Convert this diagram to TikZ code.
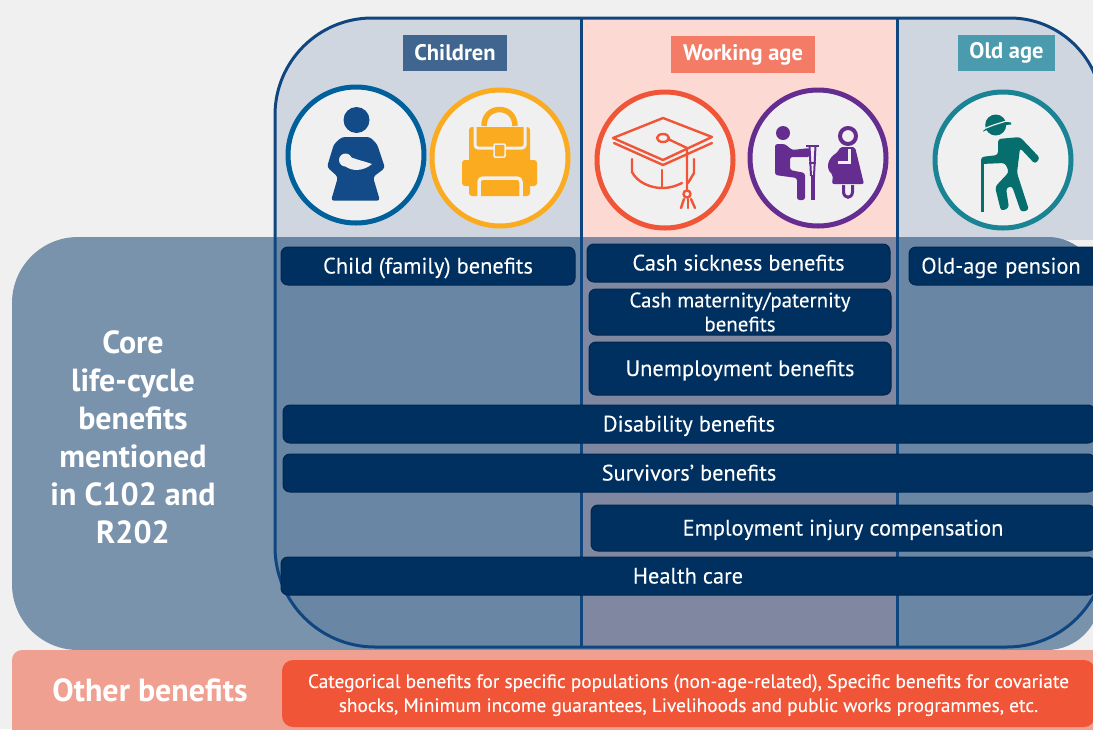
\documentclass[tikz,border=0pt]{standalone}
\usepackage{fontspec}
\setmainfont{PT Sans}
\newfontfamily\barfont[FakeBold=0.12]{PT Sans}
\definecolor{bgc}{HTML}{F0F0F0}
\definecolor{bigc}{HTML}{7A93AD}
\definecolor{sidetop}{HTML}{CFD6E0}
\definecolor{worktop}{HTML}{FDD9D3}
\definecolor{sidelow}{HTML}{6A86A5}
\definecolor{worklow}{HTML}{7F88A0}
\definecolor{framec}{HTML}{0F4680}
\definecolor{barc}{HTML}{00305F}
\definecolor{baredge}{HTML}{00264E}
\definecolor{otherc}{HTML}{F0A090}
\definecolor{orangec}{HTML}{F05537}
\definecolor{tabA}{HTML}{40658F}
\definecolor{tabB}{HTML}{F47C66}
\definecolor{tabC}{HTML}{4A9BAD}
\definecolor{ringA}{HTML}{00609C}
\definecolor{iconA}{HTML}{134A88}
\definecolor{ringB}{HTML}{FBAB20}
\definecolor{ringD}{HTML}{662D91}
\definecolor{ringE}{HTML}{1A8494}
\definecolor{iconE}{HTML}{066E6C}
\tikzset{
  x=1pt,y=-1pt,
  barbox/.style={draw=baredge,fill=barc,line width=1pt,rounded corners=7pt,text=white,
    font=\barfont\fontsize{22.4}{24}\selectfont,align=center,inner sep=0pt,outer sep=0pt},
  tabbox/.style={text=white,font=\fontsize{22.5}{26}\selectfont\bfseries,inner sep=0pt,outer sep=0pt,
    minimum height=36pt},
  ring/.style={circle,draw=#1,line width=5pt,fill=bgc,minimum size=136pt,inner sep=0pt},
  sidetext/.style={text=white,align=center,font=\fontsize{32}{38}\selectfont\bfseries,inner sep=0pt}
}
\newcommand{\framepath}{(275,300) [rounded corners=97pt] -- (275,18) [rounded corners=91pt] -- (1101,18) [rounded corners=100pt] -- (1107,647) -- (275,647) [sharp corners] -- cycle}
\newcommand{\lowered}[1]{\raisebox{0pt}[16pt][1pt]{#1}}
\begin{document}
\begin{tikzpicture}
\useasboundingbox (0,0) rectangle (1093,729);
\clip (0,0) rectangle (1093,729);
\fill[bgc] (0,0) rectangle (1093,729);
% upper column tints
\begin{scope}
  \clip \framepath;
  \fill[sidetop] (270,10) rectangle (581,240);
  \fill[worktop] (581,10) rectangle (897,240);
  \fill[sidetop] (897,10) rectangle (1120,240);
\end{scope}
% core band
\fill[bigc] (12,300) [rounded corners=66pt] -- (12,237) [rounded corners=53pt] -- (1100,237) -- (1100,650) [rounded corners=66pt] -- (12,650) [sharp corners] -- cycle;
\begin{scope}
  \clip \framepath;
  \clip (12,300) [rounded corners=66pt] -- (12,237) [rounded corners=53pt] -- (1100,237) -- (1100,650) [rounded corners=66pt] -- (12,650) [sharp corners] -- cycle;
  \fill[sidelow] (270,237) rectangle (581,650);
  \fill[worklow] (581,237) rectangle (897,650);
  \fill[sidelow] (897,237) rectangle (1120,650);
\end{scope}
% frame
\draw[framec,line width=3pt] \framepath;
\draw[framec,line width=3pt] (581,18) -- (581,647);
\draw[framec,line width=3pt] (897,18) -- (897,647);
% other band
\fill[otherc,rounded corners=10pt] (12,650) rectangle (1110,745);
% tabs
\node[tabbox,fill=tabA,minimum width=104pt] (tabchild) at (455,53) {Children};
\node[tabbox,fill=tabB,minimum width=144pt,minimum height=37pt] (tabwork) at (743,54.5) {Working age};
\node[tabbox,fill=tabC,minimum width=97pt] (tabold) at (1006.5,53) {Old age};
% rings
\node[ring=ringA] (r1) at (356,155) {};
\node[ring=ringB] (r2) at (500,158) {};
\node[ring=orangec] (r3) at (665,160) {};
\node[ring=ringD] (r4) at (818,158) {};
\node[ring=ringE] (r5) at (1003,160) {};
% mother and baby
\fill[iconA] (356.5,120) circle (13);
\fill[iconA,rounded corners=3pt] (331,200.7) -- (380,200.7) -- (373,177) -- (385,168) -- (377,144) -- (370,137) -- (342,137) -- (334,144) -- (327,167) -- (338,177) -- cycle;
\fill[bgc] (345.5,160) circle (6.5);
\fill[bgc] (350,157) .. controls (358,160) and (365,161.5) .. (372,164) .. controls (364,171) and (352,172) .. (345,166) -- cycle;
% backpack
\fill[ringB,rounded corners=3pt] (469,127) rectangle (530,196);
\draw[ringB,line width=5.5pt] (484,126) .. controls (484,104) and (515,104) .. (515,126);
\fill[ringB,rounded corners=3pt] (462,160) rectangle (537,186);
\draw[bgc,line width=3pt,rounded corners=3pt] (475,124) -- (475,148) -- (525,148) -- (525,124);
\fill[ringB,draw=bgc,line width=1.5pt,rounded corners=1pt] (494,144) rectangle (505,157);
\draw[bgc,line width=3.5pt,rounded corners=4pt] (479,198) -- (479,178) -- (521,178) -- (521,198);
% graduation cap
\begin{scope}[orangec,line width=2.4pt,line join=round,line cap=round]
  \draw (613,138) -- (663,118) -- (712,137) -- (663,160) -- cycle;
  \draw (614,143) -- (663,165) -- (712,143);
  \draw (632,159) -- (632,172) .. controls (637,182) and (650,188) .. (662,188) .. controls (670,188) and (676,186) .. (682,183);
  \draw (662,170) -- (662,187);
  \draw (694,159) -- (694,173) -- (688,183);
  \draw (663,138) ellipse (6 and 4);
  \draw (668,139) -- (687,148) -- (687,190);
  \draw (687,194) circle (3.5);
  \draw (684,199) -- (681,208);
  \draw (688,199) -- (688,208);
  \draw (691,199) -- (695,208);
\end{scope}
% sitting person, crutch, pregnant woman
\fill[ringD] (783,133) circle (7);
\fill[ringD,rounded corners=2.5pt] (775,144) -- (785,144) -- (792,150) -- (810,148) -- (810,157) -- (790,157) -- (790,170) -- (805,173) -- (805,200) -- (797,200) -- (797,178) -- (775,175) -- cycle;
\begin{scope}[ringD]
  \draw[line width=2.5pt] (806,146) -- (819,146);
  \draw[line width=2pt] (809.5,146) -- (811,176);
  \draw[line width=2pt] (815.5,146) -- (814,176);
  \draw[line width=2pt] (809,163) -- (816,163);
  \draw[line width=4pt] (812.5,175) -- (812.5,200);
  \draw[line width=4pt] (848,136) circle (8);
  \fill[rounded corners=2pt] (840,147) -- (855,147) -- (864,184) -- (832,184) -- (833,175) .. controls (825,168) and (828,158) .. (838,152) -- cycle;
  \draw[line width=3pt,bgc] (849,149) -- (849,162) -- (838,162);
  \draw[line width=3pt] (843.5,185) -- (843.5,192) .. controls (844,199) and (852,199) .. (852.5,192) -- (852.5,185);
\end{scope}
% old man
\fill[iconE] (995.7,125) circle (10.5);
\fill[iconE] (983,131) .. controls (992,123) and (1003,121) .. (1011,122.5) -- (1011,124.5) .. controls (1003,125) and (992,128) .. (983,131.5) -- cycle;
\draw[bgc,line width=1.2pt] (986,128) .. controls (994,124.5) and (1002,122.5) .. (1008,120.5);
\fill[iconE,rounded corners=3pt] (998,139) -- (1020,137) -- (1040,158) -- (1035,164) -- (1020,148) -- (1017,173) -- (1029,210) -- (1021,212) -- (1012,186) -- (1006,188) -- (1009,208) -- (1001,211) -- (995,187) -- (1009,172) -- (1005,163) -- (981,164) -- (981,157) -- (998,155) -- cycle;
\draw[iconE,line width=3pt] (982,160) -- (982,212);
% core bars
\node[barbox,minimum width=294pt,minimum height=38pt] (child) at (428,266) {\lowered{Child (family) benefits}};
\node[barbox,minimum width=303pt,minimum height=38pt] (sick) at (738.5,263) {\lowered{Cash sickness benefits}};
\node[barbox,minimum width=302pt,minimum height=46pt,font=\barfont\fontsize{20.9}{24}\selectfont] (mat) at (740,312) {Cash maternity/paternity\\benefits};
\node[barbox,minimum width=302pt,minimum height=53pt] (unemp) at (740,368.5) {\lowered{Unemployment benefits}};
\node[barbox,minimum width=192pt,minimum height=38pt,text width=184pt] (oldp) at (1005,266) {\hspace*{-8pt}\lowered{Old-age pension}};
\node[barbox,minimum width=812pt,minimum height=38pt] (dis) at (689,424) {\lowered{Disability benefits}};
\node[barbox,minimum width=812pt,minimum height=38pt] (sur) at (689,473) {\lowered{Survivors’ benefits}};
\node[barbox,minimum width=504pt,minimum height=46pt] (inj) at (843,528) {\lowered{Employment injury compensation}};
\node[barbox,minimum width=814pt,minimum height=38pt] (health) at (688,576) {\lowered{Health care}};
% orange box
\node[fill=orangec,rounded corners=11pt,minimum width=813pt,minimum height=67pt,text=white,align=center,inner sep=0pt,
  font=\barfont\fontsize{19.3}{24}\selectfont] (cat) at (688.5,693.5) {\rule{0pt}{17pt}Categorical benefits for specific populations (non-age-related), Specific benefits for covariate\\shocks, Minimum income guarantees, Livelihoods and public works programmes, etc.};
% side labels
\node[sidetext] (core) at (133,437) {Core\\life-cycle\\benefits\\mentioned\\in C102 and\\R202};
\node[text=white,font=\fontsize{32}{36}\selectfont\bfseries,inner sep=0pt] (other) at (150,690) {Other benefits};
\end{tikzpicture}
\end{document}
